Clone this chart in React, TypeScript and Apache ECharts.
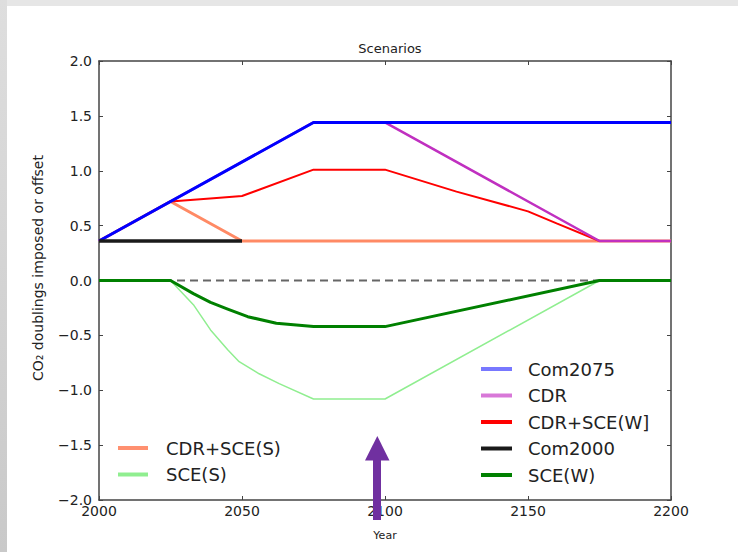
import React, { useEffect, useRef } from 'react';
import * as echarts from 'echarts';

const xTicks = [2000, 2050, 2100, 2150, 2200];
const xTickLabels = ['2000', '2050', '2100', '2150', '2200'];
const yTicks = [-2, -1.5, -1, -0.5, 0, 0.5, 1, 1.5, 2];
const yTickLabels = ['−2.0', '−1.5', '−1.0', '−0.5', '0.0', '0.5', '1.0', '1.5', '2.0'];

const com2075Years = [2000, 2075, 2200];
const com2075Values = [0.36, 1.44, 1.44];

const cdrYears = [2000, 2075, 2100, 2175, 2200];
const cdrValues = [0.36, 1.44, 1.44, 0.36, 0.36];

const cdrSceWYears = [2000, 2025, 2040, 2050, 2075, 2100, 2125, 2150, 2160, 2175, 2200];
const cdrSceWValues = [0.36, 0.72, 0.75, 0.77, 1.01, 1.01, 0.81, 0.63, 0.52, 0.36, 0.36];

const com2000Years = [2000, 2050];
const com2000Values = [0.36, 0.36];

const sceWYears = [2000, 2025, 2033, 2039, 2045, 2052, 2062, 2075, 2100, 2175, 2200];
const sceWValues = [0, 0, -0.12, -0.2, -0.26, -0.33, -0.39, -0.42, -0.42, 0, 0];

const cdrSceSYears = [2000, 2025, 2050, 2200];
const cdrSceSValues = [0.36, 0.72, 0.36, 0.36];

const sceSYears = [2000, 2025, 2033, 2039, 2045, 2049, 2056, 2063, 2075, 2100, 2175, 2200];
const sceSValues = [0, 0, -0.22, -0.45, -0.63, -0.74, -0.85, -0.94, -1.08, -1.08, 0, 0];

const zeroYears = [2000, 2200];
const zeroValues = [0, 0];

const pairs = (xs: number[], ys: number[]) => xs.map((x, i) => [x, ys[i]]);

const FONT = 'DejaVu Sans';

export default function App() {
  const ref = useRef<HTMLDivElement>(null);
  useEffect(() => {
    document.body.style.margin = '0';
    const chart = echarts.init(ref.current!, null, { renderer: 'svg' });
    const axisLine = { show: true, onZero: false, lineStyle: { color: '#444', width: 1.5 } };
    const tick = { show: true, inside: true, length: 4, lineStyle: { color: '#444', width: 1 } };
    const line = (name: string, xs: number[], ys: number[], color: string, width: number, z: number) => ({
      name,
      type: 'line',
      data: pairs(xs, ys),
      showSymbol: false,
      symbol: 'none',
      z,
      lineStyle: { color, width },
      itemStyle: { color },
    });
    const legendText = { fontSize: 18, color: '#222', fontFamily: FONT, lineHeight: 20 };
    chart.setOption({
      animation: false,
      backgroundColor: '#ffffff',
      title: {
        text: 'Scenarios',
        left: 385,
        top: 37,
        textAlign: 'center',
        textStyle: { fontSize: 13, fontWeight: 'normal', color: '#222', fontFamily: FONT },
      },
      grid: { left: 99, right: 67, top: 61, bottom: 52 },
      xAxis: [
        {
          type: 'value',
          min: 2000,
          max: 2200,
          interval: 50,
          axisLine,
          axisTick: tick,
          splitLine: { show: false },
          axisLabel: {
            margin: 4,
            fontSize: 14,
            color: '#222',
            fontFamily: FONT,
            formatter: (v: number) => xTickLabels[xTicks.indexOf(v)] ?? '',
          },
          name: 'Year',
          nameLocation: 'middle',
          nameGap: 30,
          nameTextStyle: { fontSize: 11, color: '#222', fontFamily: FONT },
        },
        {
          type: 'value',
          position: 'top',
          min: 2000,
          max: 2200,
          interval: 50,
          axisLine,
          axisTick: tick,
          splitLine: { show: false },
          axisLabel: { show: false },
        },
      ],
      yAxis: [
        {
          type: 'value',
          min: -2,
          max: 2,
          interval: 0.5,
          axisLine,
          axisTick: tick,
          splitLine: { show: false },
          axisLabel: {
            margin: 7,
            fontSize: 14,
            color: '#222',
            fontFamily: FONT,
            formatter: (v: number) => yTickLabels[yTicks.findIndex((t) => Math.abs(t - v) < 1e-6)] ?? '',
          },
        },
        {
          type: 'value',
          position: 'right',
          min: -2,
          max: 2,
          interval: 0.5,
          axisLine,
          axisTick: tick,
          splitLine: { show: false },
          axisLabel: { show: false },
        },
      ],
      legend: [
        {
          data: [
            { name: 'Com2075', itemStyle: { color: '#7878ff' } },
            { name: 'CDR', itemStyle: { color: '#d878d8' } },
            'CDR+SCE(W]',
            'Com2000',
            'SCE(W)',
          ],
          orient: 'vertical',
          left: 481,
          top: 359,
          padding: 0,
          icon: 'rect',
          itemWidth: 31,
          itemHeight: 4,
          itemGap: 6.5,
          textStyle: { ...legendText, padding: [0, 0, 0, 11] },
        },
        {
          data: [{ name: 'CDR+SCE(S)', itemStyle: { color: '#ff9070' } }, 'SCE(S)'],
          orient: 'vertical',
          left: 118,
          top: 438,
          padding: 0,
          icon: 'rect',
          itemWidth: 30,
          itemHeight: 4,
          itemGap: 6.5,
          textStyle: { ...legendText, padding: [0, 0, 0, 13] },
        },
      ],
      series: [
        {
          name: 'zero',
          type: 'line',
          data: pairs(zeroYears, zeroValues),
          showSymbol: false,
          symbol: 'none',
          z: 1,
          lineStyle: { color: '#666', width: 2, type: [8, 5] },
        },
        line('CDR+SCE(S)', cdrSceSYears, cdrSceSValues, '#ff8a65', 3, 2),
        line('SCE(S)', sceSYears, sceSValues, '#90ee90', 1.5, 3),
        line('CDR+SCE(W]', cdrSceWYears, cdrSceWValues, '#ff0000', 2, 4),
        line('CDR', cdrYears, cdrValues, '#c030c0', 2.5, 5),
        line('Com2075', com2075Years, com2075Values, '#0000ff', 3, 6),
        line('Com2000', com2000Years, com2000Values, '#1a1a1a', 3.5, 7),
        line('SCE(W)', sceWYears, sceWValues, '#008000', 3, 8),
      ],
      graphic: [
        { type: 'rect', z: -10, silent: true, shape: { x: 0, y: 0, width: 738, height: 6 }, style: { fill: '#e6e6e6' } },
        {
          type: 'rect',
          z: -10,
          silent: true,
          shape: { x: 0, y: 0, width: 7, height: 552 },
          style: {
            fill: new echarts.graphic.LinearGradient(0, 0, 0, 1, [
              { offset: 0, color: '#dedede' },
              { offset: 1, color: '#c9c9c9' },
            ]),
          },
        },
        {
          type: 'text',
          x: 38,
          y: 268,
          rotation: Math.PI / 2,
          style: {
            text: 'CO₂ doublings imposed or offset',
            fontSize: 14,
            fontFamily: FONT,
            fill: '#222',
            textAlign: 'center',
            textVerticalAlign: 'middle',
          },
        },
        { type: 'rect', z: 100, shape: { x: 373, y: 460, width: 8, height: 60 }, style: { fill: '#7030a0' } },
        {
          type: 'polygon',
          z: 100,
          shape: { points: [[365, 460.5], [389.5, 460.5], [377.3, 436]] },
          style: { fill: '#7030a0' },
        },
      ],
    });
    return () => chart.dispose();
  }, []);
  return <div ref={ref} style={{ width: 738, height: 552 }} />;
}
